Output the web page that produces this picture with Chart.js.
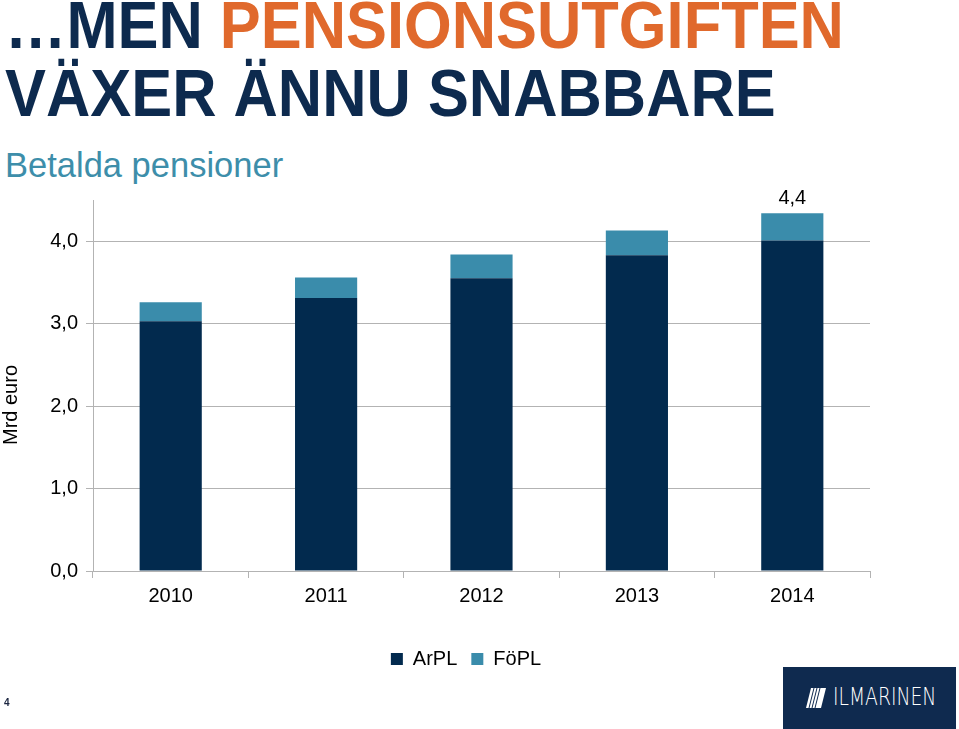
<!DOCTYPE html>
<html><head><meta charset="utf-8">
<script src="https://cdn.jsdelivr.net/npm/chart.js@4/dist/chart.umd.min.js"></script>
<style>
body{margin:0;width:959px;height:729px;overflow:hidden;background:#fff;font-family:"Liberation Sans",Arial,sans-serif;position:relative}
.t{position:absolute;left:5px;font-weight:bold;white-space:nowrap;transform-origin:0 0;line-height:1;color:#0d2a4e}
#sub{position:absolute;left:5px;top:148px;font-size:34.5px;line-height:1;color:#3d8eaa;white-space:nowrap}
#wrap{position:absolute;left:0;top:180px;width:959px;height:505px}
#ytitle{position:absolute;left:0;top:405px;font-size:20px;line-height:20px;color:#000;white-space:nowrap;transform:translate(0,0) rotate(-90deg);transform-origin:0 0}
#pg{position:absolute;left:4px;top:697px;font-size:10px;font-weight:bold;color:#1b2540}
#logo{position:absolute;left:783px;top:667px;width:173px;height:62px;background:#0f2a4f}
#logo .txt{position:absolute;left:50px;top:18px;color:#fff;font-family:"DejaVu Sans";font-weight:200;font-size:24px;line-height:1;letter-spacing:0px;transform:scaleX(0.78);transform-origin:0 0;white-space:nowrap}
#logo svg{position:absolute;left:22px;top:20px}
</style></head><body>
<div class="t" style="top:-8px;font-size:66px;transform:scaleX(0.93)">…MEN <span style="color:#e0692c">PENSIONSUTGIFTEN</span></div>
<div class="t" style="top:60px;font-size:66px;transform:scaleX(0.93)">VÄXER ÄNNU SNABBARE</div>
<div id="sub">Betalda pensioner</div>
<div id="wrap"><canvas id="c"></canvas></div>
<div id="ytitle"></div>
<div id="pg">4</div>
<div id="logo"><svg width="22" height="22" viewBox="0 0 22 22"><polygon points="6,1 21,1 16,21 1,21" fill="#fff"/><g stroke="#0f2a4f" stroke-width="1"><line x1="4" y1="21" x2="9" y2="1"/><line x1="7" y1="21" x2="12" y2="1"/><line x1="10" y1="21" x2="15" y2="1"/></g></svg><div class="txt">ILMARINEN</div></div>
<script>
const years = ['2010', '2011', '2012', '2013', '2014'];
const arpl = [3.03, 3.31, 3.55, 3.83, 4.01];
const fopl = [0.23, 0.25, 0.29, 0.30, 0.33];
const totalLabels = ['', '', '', '', '4,4'];
const seriesNames = ['ArPL', 'FöPL'];
const yAxisTitle = 'Mrd euro';

// y-axis title, centred on its own span beside the axis
const yt = document.getElementById('ytitle');
yt.textContent = yAxisTitle;
yt.style.top = (405 + yt.offsetWidth / 2) + 'px';

const FONT = '"Liberation Sans", Arial, sans-serif';
const totalsPlugin = {
  id: 'totals',
  afterDatasetsDraw(chart) {
    const ctx = chart.ctx;
    const meta = chart.getDatasetMeta(1);
    meta.data.forEach((bar, i) => {
      if (!totalLabels[i]) return;
      ctx.save();
      ctx.font = '20px ' + FONT;
      ctx.fillStyle = '#000';
      ctx.textAlign = 'center';
      ctx.textBaseline = 'bottom';
      ctx.fillText(totalLabels[i], bar.x, bar.y - 5);
      ctx.restore();
    });
  }
};
const legendShift = {
  id: 'legendShift',
  afterLayout(chart) {
    const l = chart.legend;
    if (l) { l.left += 31; l.right += 31; }
  }
};

new Chart(document.getElementById('c'), {
  type: 'bar',
  data: {
    labels: years,
    datasets: [
      { label: seriesNames[0], data: arpl, backgroundColor: '#022a4e' },
      { label: seriesNames[1], data: fopl, backgroundColor: '#3a8cab' }
    ]
  },
  options: {
    responsive: true,
    maintainAspectRatio: false,
    animation: false,
    events: [],
    layout: { padding: { top: 15, right: 89, left: 0, bottom: 6 } },
    datasets: { bar: { categoryPercentage: 1, barPercentage: 0.4 } },
    plugins: {
      legend: {
        position: 'bottom',
        labels: { boxWidth: 12, boxHeight: 12, color: '#000', font: { family: FONT, size: 20 }, padding: 14 }
      },
      tooltip: { enabled: false }
    },
    scales: {
      x: {
        stacked: true,
        afterFit(s) { s.height += 21; },
        grid: { drawOnChartArea: false, drawTicks: true, tickLength: 7, color: '#b3b3b3', offset: true },
        border: { color: '#b3b3b3' },
        ticks: { color: '#000', font: { family: FONT, size: 20 }, padding: 6 }
      },
      y: {
        stacked: true,
        min: 0, max: 4.5,
        afterFit(s) { s.width = 93; },
        grid: { color: '#b3b3b3', tickLength: 7 },
        border: { color: '#b3b3b3' },
        ticks: { stepSize: 1, includeBounds: false, color: '#000', font: { family: FONT, size: 20 }, padding: 8,
          callback: v => v.toFixed(1).replace('.', ',') },
        title: { display: false }
      }
    }
  },
  plugins: [totalsPlugin, legendShift]
});
</script>
</body></html>
